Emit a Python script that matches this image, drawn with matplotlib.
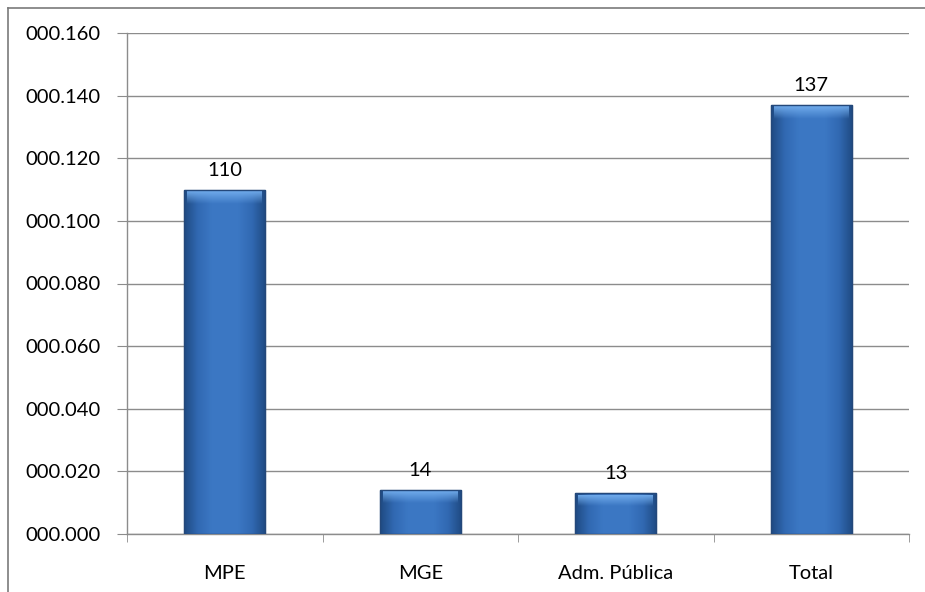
import matplotlib.pyplot as plt
import numpy as np
from matplotlib.lines import Line2D
from matplotlib.colors import LinearSegmentedColormap

categories = ["MPE", "MGE", "Adm. Pública", "Total"]
values = [0.110, 0.014, 0.013, 0.137]
labels = ["110", "14", "13", "137"]
yticks = [0.0, 0.02, 0.04, 0.06, 0.08, 0.10, 0.12, 0.14, 0.16]

plt.rcParams['font.family'] = ['Lato', 'DejaVu Sans']

fig = plt.figure(figsize=(9.25, 5.92), dpi=100)
ax = fig.add_axes([127 / 925, 1 - 534 / 592, 782 / 925, 501 / 592])

x = np.arange(len(categories))
bars = ax.bar(x, values, width=0.415, color="#3a73bd", edgecolor="#24487a",
              linewidth=0.8, zorder=3)

# side shading on each bar: darker edges, flat middle
cmap = LinearSegmentedColormap.from_list(
    "bev", ["#1f4a82", "#3169b2", "#3b77c3", "#3c78c4", "#3b77c3", "#3169b2", "#1f4a82"])
grad = np.linspace(0, 1, 200).reshape(1, -1)
# top highlight, fades downward
top_cmap = LinearSegmentedColormap.from_list(
    "top", [(0.45, 0.68, 0.93, 0.0), (0.45, 0.68, 0.93, 0.95)])
vgrad = np.linspace(0, 1, 50).reshape(-1, 1)
for b in bars:
    x0, w, h = b.get_x(), b.get_width(), b.get_height()
    im = ax.imshow(grad, cmap=cmap, aspect="auto", zorder=3.5,
                   extent=[x0, x0 + w, 0, h], interpolation="bicubic")
    im.set_clip_path(b)
    top = min(0.0045, h * 0.3)
    im2 = ax.imshow(vgrad, cmap=top_cmap, aspect="auto", zorder=3.6, origin="lower",
                    extent=[x0 + w * 0.04, x0 + w * 0.96, h - top, h - 0.0004],
                    interpolation="bicubic")
    ax.add_patch(plt.Rectangle((x0, 0), w, h, fill=False, edgecolor="#24487a",
                               linewidth=1.0, zorder=3.7))

for xi, v, lab in zip(x, values, labels):
    ax.text(xi, v + 0.0035, lab, ha="center", va="bottom", fontsize=14.5,
            color="black", zorder=4)

ax.set_xlim(-0.5, len(categories) - 0.5)
ax.set_ylim(0, 0.16)
ax.set_yticks(yticks)
ax.set_yticklabels(["000.%03d" % round(t * 1000) for t in yticks], fontsize=14.5)
ax.set_xticks(x)
ax.set_xticklabels(categories, fontsize=14.5)
ax.set_xticks(np.arange(-0.5, len(categories)), minor=True)

ax.yaxis.grid(True, color="#8c8c8c", linewidth=1.0, zorder=0)
ax.set_axisbelow(True)
for s in ["top", "right"]:
    ax.spines[s].set_visible(False)
for s in ["left", "bottom"]:
    ax.spines[s].set_color("#8c8c8c")
    ax.spines[s].set_linewidth(1.0)
ax.tick_params(axis="y", length=7, color="#8c8c8c", pad=12)
ax.tick_params(axis="x", which="major", length=0, pad=22)
ax.tick_params(axis="x", which="minor", length=6, color="#8c8c8c")

# outer chart border (only top and left visible in frame)
fig.add_artist(Line2D([7.5 / 925, 7.5 / 925], [0, 1 - 7.5 / 592],
                      transform=fig.transFigure, color="#7a7a7a", linewidth=1.2))
fig.add_artist(Line2D([7.5 / 925, 1], [1 - 7.5 / 592, 1 - 7.5 / 592],
                      transform=fig.transFigure, color="#7a7a7a", linewidth=1.2))

fig.savefig("out.png", dpi=100)
